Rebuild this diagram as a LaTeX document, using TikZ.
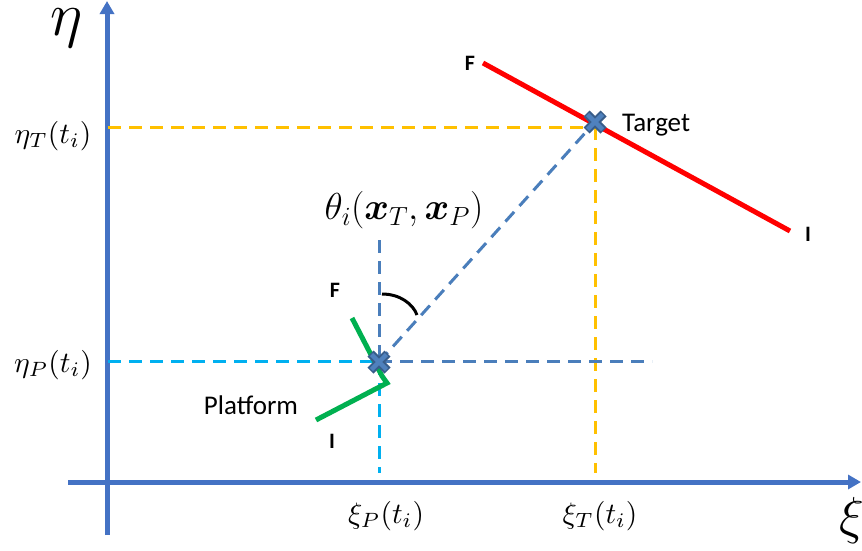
\RequirePackage{fix-cm}
\documentclass[tikz,border=0pt]{standalone}
\usepackage{fontspec}
\newfontfamily\carlito{Carlito}
\usepackage{bm}
\usepackage{graphicx}
\usetikzlibrary{arrows.meta,calc}
\definecolor{axblue}{RGB}{68,114,196}
\definecolor{stblue}{RGB}{74,126,187}
\definecolor{ltblue}{RGB}{0,176,240}
\definecolor{ylw}{RGB}{255,192,0}
\definecolor{rd}{RGB}{255,0,0}
\definecolor{grn}{RGB}{0,176,80}
\definecolor{xfill}{RGB}{79,129,189}
\definecolor{xedge}{RGB}{56,93,138}
\newcommand{\mlab}[1]{\scalebox{2.95}{$#1$}}
\tikzset{
  axis/.style={line width=5pt, color=axblue, -{Triangle[width=14pt,length=13pt]}},
  dsh/.style={line width=3pt, dash pattern=on 13pt off 8pt},
  lbl/.style={font=\carlito\fontsize{27}{30}\selectfont, inner sep=0pt},
  blbl/.style={font=\carlito\bfseries\fontsize{22}{24}\selectfont, inner sep=0pt},
  mlbl/.style={font=\fontsize{10}{12}\selectfont, inner sep=0pt},
  xmark/.pic={
    \draw[line width=8.5pt, color=xedge] (-8.5,-8.5)--(8.5,8.5) (-8.5,8.5)--(8.5,-8.5);
    \draw[line width=4.5pt, color=xfill] (-7.5,-7.5)--(7.5,7.5) (-7.5,7.5)--(7.5,-7.5);
  }
}
\begin{document}
\begin{tikzpicture}[x=1pt,y=-1pt]
\useasboundingbox (0,0) rectangle (862,550);
% key points
\coordinate (T) at (595,122);
\coordinate (P) at (379,362);
\coordinate (oy) at (107,535);
\coordinate (ty) at (107,1);
\coordinate (ox) at (68,482);
\coordinate (tx) at (861,482);
\coordinate (ytl) at (108,127);
\coordinate (ytr) at (595,127);
\coordinate (ytb) at (595,473);
\coordinate (ypl) at (108,361);
\coordinate (ypr) at (652,361);
\coordinate (ypb) at (379,473);
\coordinate (ypt) at (379,240);
\coordinate (rF) at (483,63);
\coordinate (rI) at (790,231);
% axes
\draw[axis] (oy) -- (ty);
\draw[axis] (ox) -- (tx);
% dashed guides
\draw[dsh, ylw] (ytl) -- (ytr);
\draw[dsh, ylw] (ytr) -- (ytb);
\draw[dsh, ltblue] (ypl) -- (P |- ypl);
\draw[dsh, stblue] (P |- ypl) -- (ypr);
\draw[dsh, stblue] (ypt) -- (P);
\draw[dsh, ltblue] (P) -- (ypb);
\draw[dsh, stblue] (P) -- (T);
% angle arc
\draw[line width=3pt, black] (382,294) .. controls (400,294) and (413,304) .. (417,315);
% trajectories
\draw[line width=5pt, rd] (rF) -- (rI);
\draw[line width=5pt, grn, line join=miter] (352,318) -- (382,376) -- (387,383) -- (316,420);
% crosses
\pic at (T) {xmark};
\pic at (P) {xmark};
% labels
\node[font=\fontsize{62}{62}\selectfont, inner sep=0pt] (eta) at (67,28) {$\eta$};
\node[font=\fontsize{52}{52}\selectfont, inner sep=0pt] (xi) at (852,520) {$\xi$};
\node[mlbl] (etaT) at (53,136) {\mlab{\eta_T(t_i)}};
\node[mlbl] (etaP) at (53,365) {\mlab{\eta_P(t_i)}};
\node[mlbl] (xiP) at (386,516) {\mlab{\xi_P(t_i)}};
\node[mlbl] (xiT) at (600,516) {\mlab{\xi_T(t_i)}};
\node[font=\fontsize{37.5}{40}\selectfont, inner sep=0pt] (th) at (404,210) {$\theta_i(\bm{x}_T,\bm{x}_P)$};
\node[lbl, anchor=west] (tgt) at (622,125) {Target};
\node[lbl] (plat) at (251,405) {Platform};
\node[blbl] (F1) at (470,63) {F};
\node[blbl] (I1) at (808,234) {I};
\node[blbl] (F2) at (335,290) {F};
\node[blbl] (I2) at (332,441) {I};
\end{tikzpicture}
\end{document}
